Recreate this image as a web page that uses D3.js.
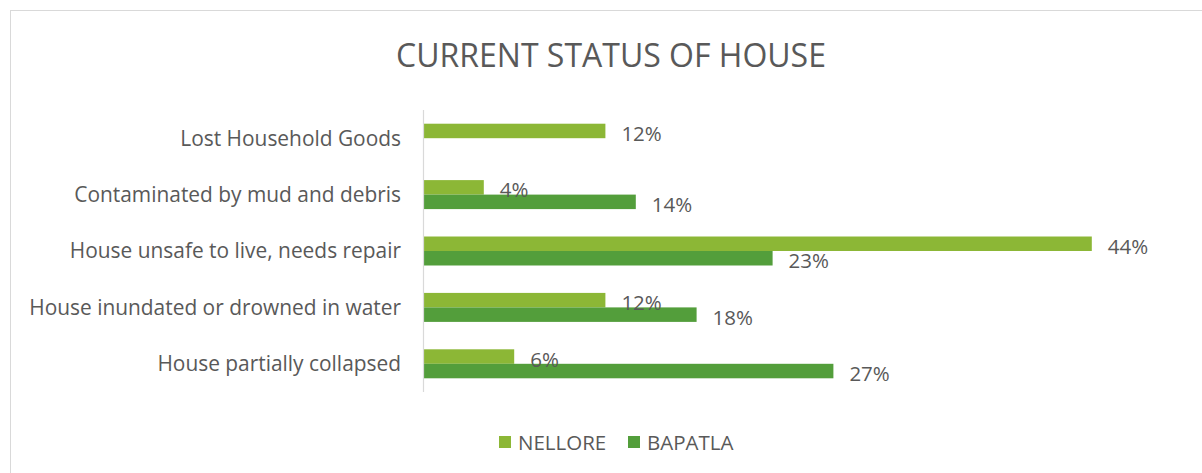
<!DOCTYPE html>
<html>
<head>
<meta charset="utf-8">
<script src="https://cdn.jsdelivr.net/npm/d3@7"></script>
<style>
  html, body { margin: 0; padding: 0; background: #fff; }
  svg { display: block; font-family: "Open Sans", "Noto Sans", sans-serif; }
</style>
</head>
<body>
<svg id="chart" width="1202" height="473"></svg>
<script>
// Categories, top to bottom
const categories = [
  "Lost Household Goods",
  "Contaminated by mud and debris",
  "House unsafe to live, needs repair",
  "House inundated or drowned in water",
  "House partially collapsed"
];
// Share of respondents (%) per district
const nellore = [12, 4, 44, 12, 6];
const bapatla = [null, 14, 23, 18, 27];
const seriesNames = ["NELLORE", "BAPATLA"];
const seriesColors = ["#8cb736", "#539e3b"];
const title = "CURRENT STATUS OF HOUSE";

const svg = d3.select("#chart");
const textColor = "#595959";
const labelSize = 20.5;
const categorySize = 20.9;

// chart frame
svg.append("rect")
  .attr("x", 10.5).attr("y", 10.5)
  .attr("width", 1210).attr("height", 480)
  .attr("fill", "#fff").attr("stroke", "#d9d9d9").attr("stroke-width", 1);

svg.append("text")
  .attr("x", 611).attr("y", 54)
  .attr("text-anchor", "middle").attr("dominant-baseline", "central")
  .attr("fill", textColor).attr("font-size", 32)
  .text(title);

const plot = { left: 423, right: 1183, top: 110, bottom: 392 };

const x = d3.scaleLinear().domain([0, 50]).range([plot.left, plot.right]);
const y = d3.scaleBand().domain(categories)
  .range([plot.top, plot.bottom])
  .paddingInner(0.486).paddingOuter(0.243);
const ySub = d3.scaleBand().domain(seriesNames).range([0, y.bandwidth()]);

const rows = categories.map((c, i) => ({
  category: c,
  values: [
    { series: seriesNames[0], value: nellore[i], color: seriesColors[0] },
    { series: seriesNames[1], value: bapatla[i], color: seriesColors[1] }
  ].filter(d => d.value != null)
}));

const groups = svg.append("g").selectAll("g")
  .data(rows).join("g")
  .attr("transform", d => `translate(0,${y(d.category)})`);

groups.selectAll("rect")
  .data(d => d.values).join("rect")
  .attr("x", x(0))
  .attr("y", d => ySub(d.series))
  .attr("width", d => x(d.value) - x(0))
  .attr("height", ySub.bandwidth())
  .attr("fill", d => d.color);

groups.selectAll("text.val")
  .data(d => d.values).join("text")
  .attr("class", "val")
  .attr("x", d => x(d.value) + 16)
  .attr("y", d => ySub(d.series) + ySub.bandwidth() / 2 + 2)
  .attr("dominant-baseline", "central")
  .attr("fill", textColor).attr("font-size", labelSize)
  .text(d => d.value + "%");

// category axis
const yAxis = d3.axisLeft(y).tickSize(0).tickPadding(22);
const ag = svg.append("g").attr("transform", `translate(${plot.left},0)`).call(yAxis);
ag.select(".domain").attr("stroke", "#d9d9d9").attr("stroke-width", 1.2)
  .attr("d", `M0.5,${plot.top}V${plot.bottom}`);
ag.selectAll("text")
  .attr("fill", textColor).attr("font-size", categorySize)
  .attr("font-family", "\"Open Sans\", sans-serif")
  .attr("dy", "0.35em");

// legend
const legendX = [499, 628];
const lg = svg.append("g").selectAll("g")
  .data(seriesNames).join("g")
  .attr("transform", (d, i) => `translate(${legendX[i]},436)`);
lg.append("rect").attr("width", 12).attr("height", 12)
  .attr("fill", (d, i) => seriesColors[i]);
lg.append("text").attr("x", 19).attr("y", 6)
  .attr("dominant-baseline", "central")
  .attr("fill", textColor).attr("font-size", labelSize)
  .text(d => d);
</script>
</body>
</html>
